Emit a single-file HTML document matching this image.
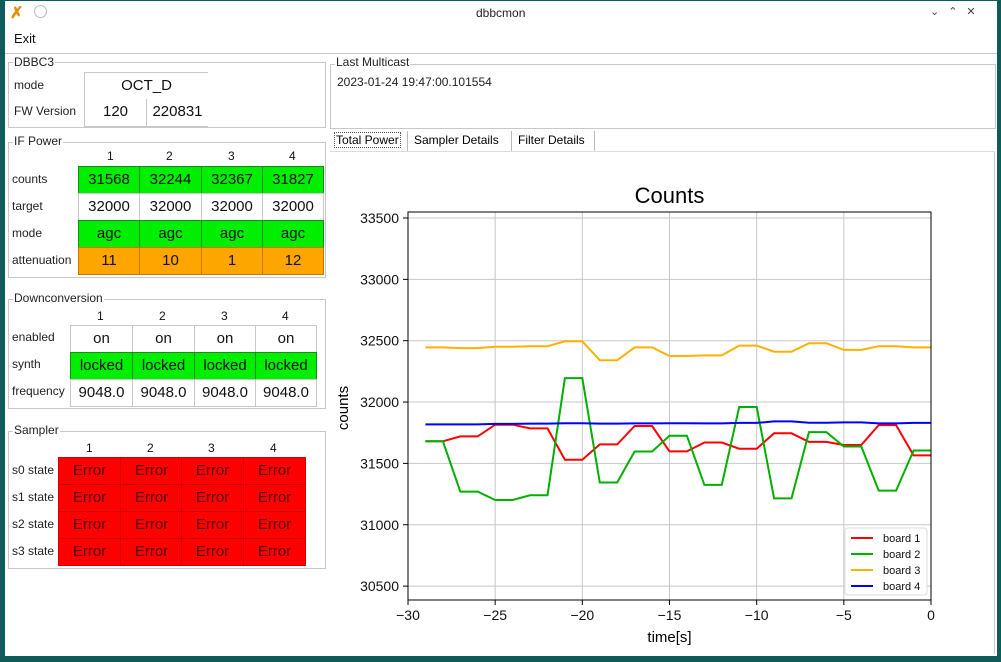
<!DOCTYPE html>
<html><head><meta charset="utf-8"><style>
body{margin:0;width:1001px;height:662px;overflow:hidden;background:#0d5c5a;font-family:"Liberation Sans",sans-serif;position:relative}
.a{position:absolute}
#win{position:absolute;left:5px;top:1px;width:992px;height:655px;background:#fff}
.gb{position:absolute;border:1px solid #c8c8c8}
.gl{position:absolute;background:#fff;font-size:12px;color:#222;padding:0 1px;line-height:13px}
.lbl{position:absolute;font-size:12px;color:#222;line-height:14px}
.c{position:absolute;box-sizing:border-box;text-align:center;font-size:15px;color:#111}
.g{background:#00ee00;border:1px solid #1a8a1a}
.o{background:#ffa500;border:1px solid #c87800}
.r{background:#ff0000;border:1px solid #d40000;color:#500}
.w{background:#fff;border:1px solid #c8c8c8}
.h{position:absolute;font-size:12px;color:#111}
</style></head><body>
<div id="win"></div>
<div class="a" style="left:10px;top:3px;font-size:16px;color:#e29000;font-weight:bold">✗</div>
<div class="a" style="left:34px;top:5px;width:11px;height:11px;border:1px solid #bbb;border-radius:50%"></div>
<div class="a" style="left:476px;top:6px;font-size:12px;color:#222">dbbcmon</div>
<div class="a" style="left:930px;top:5px;font-size:11px;color:#444;letter-spacing:9px">⌄⌃✕</div>
<div class="a" style="left:14px;top:31px;font-size:13px;color:#111">Exit</div>
<div class="a" style="left:5px;top:53px;width:992px;height:1px;background:#c8c8c8"></div>

<!-- DBBC3 -->
<div class="gb" style="left:8px;top:62px;width:316px;height:64px"></div>
<div class="gl" style="left:13px;top:56px">DBBC3</div>
<div class="lbl" style="left:14px;top:78px">mode</div>
<div class="lbl" style="left:14px;top:104px">FW Version</div>
<div class="c w" style="left:84px;top:72px;width:124px;height:28px;line-height:26px;border-right:none;border-bottom:none">OCT_D</div>
<div class="c w" style="left:84px;top:99px;width:63px;height:28px;line-height:26px;border-top:none">120</div>
<div class="c w" style="left:146px;top:99px;width:62px;height:28px;line-height:26px;border-top:none;border-right:none">220831</div>

<!-- IF Power -->
<div class="gb" style="left:8px;top:142px;width:316px;height:134px"></div>
<div class="gl" style="left:13px;top:135px">IF Power</div>
<div class="h" style="left:107px;top:149px">1</div><div class="h" style="left:166px;top:149px">2</div><div class="h" style="left:228px;top:149px">3</div><div class="h" style="left:289px;top:149px">4</div>
<div class="lbl" style="left:12px;top:172px">counts</div>
<div class="lbl" style="left:12px;top:199px">target</div>
<div class="lbl" style="left:12px;top:226px">mode</div>
<div class="lbl" style="left:12px;top:253px">attenuation</div>
<div class="c g" style="left:78px;top:166px;width:62px;height:28px;line-height:26px">31568</div>
<div class="c g" style="left:139px;top:166px;width:63px;height:28px;line-height:26px">32244</div>
<div class="c g" style="left:201px;top:166px;width:62px;height:28px;line-height:26px">32367</div>
<div class="c g" style="left:262px;top:166px;width:62px;height:28px;line-height:26px">31827</div>
<div class="c w" style="left:78px;top:193px;width:62px;height:28px;line-height:26px">32000</div>
<div class="c w" style="left:139px;top:193px;width:63px;height:28px;line-height:26px">32000</div>
<div class="c w" style="left:201px;top:193px;width:62px;height:28px;line-height:26px">32000</div>
<div class="c w" style="left:262px;top:193px;width:62px;height:28px;line-height:26px">32000</div>
<div class="c g" style="left:78px;top:220px;width:62px;height:28px;line-height:26px">agc</div>
<div class="c g" style="left:139px;top:220px;width:63px;height:28px;line-height:26px">agc</div>
<div class="c g" style="left:201px;top:220px;width:62px;height:28px;line-height:26px">agc</div>
<div class="c g" style="left:262px;top:220px;width:62px;height:28px;line-height:26px">agc</div>
<div class="c o" style="left:78px;top:247px;width:62px;height:28px;line-height:26px">11</div>
<div class="c o" style="left:139px;top:247px;width:63px;height:28px;line-height:26px">10</div>
<div class="c o" style="left:201px;top:247px;width:62px;height:28px;line-height:26px">1</div>
<div class="c o" style="left:262px;top:247px;width:62px;height:28px;line-height:26px">12</div>

<!-- Downconversion -->
<div class="gb" style="left:8px;top:299px;width:316px;height:108px"></div>
<div class="gl" style="left:13px;top:292px">Downconversion</div>
<div class="h" style="left:97px;top:309px">1</div><div class="h" style="left:159px;top:309px">2</div><div class="h" style="left:221px;top:309px">3</div><div class="h" style="left:282px;top:309px">4</div>
<div class="lbl" style="left:12px;top:330px">enabled</div>
<div class="lbl" style="left:12px;top:357px">synth</div>
<div class="lbl" style="left:12px;top:384px">frequency</div>
<div class="c w" style="left:70px;top:325px;width:63px;height:28px;line-height:26px">on</div>
<div class="c w" style="left:132px;top:325px;width:63px;height:28px;line-height:26px">on</div>
<div class="c w" style="left:194px;top:325px;width:62px;height:28px;line-height:26px">on</div>
<div class="c w" style="left:255px;top:325px;width:62px;height:28px;line-height:26px">on</div>
<div class="c g" style="left:70px;top:352px;width:63px;height:28px;line-height:26px">locked</div>
<div class="c g" style="left:132px;top:352px;width:63px;height:28px;line-height:26px">locked</div>
<div class="c g" style="left:194px;top:352px;width:62px;height:28px;line-height:26px">locked</div>
<div class="c g" style="left:255px;top:352px;width:62px;height:28px;line-height:26px">locked</div>
<div class="c w" style="left:70px;top:379px;width:63px;height:28px;line-height:26px">9048.0</div>
<div class="c w" style="left:132px;top:379px;width:63px;height:28px;line-height:26px">9048.0</div>
<div class="c w" style="left:194px;top:379px;width:62px;height:28px;line-height:26px">9048.0</div>
<div class="c w" style="left:255px;top:379px;width:62px;height:28px;line-height:26px">9048.0</div>

<!-- Sampler -->
<div class="gb" style="left:8px;top:431px;width:316px;height:136px"></div>
<div class="gl" style="left:13px;top:424px">Sampler</div>
<div class="h" style="left:86px;top:441px">1</div><div class="h" style="left:147px;top:441px">2</div><div class="h" style="left:208px;top:441px">3</div><div class="h" style="left:270px;top:441px">4</div>
<div class="lbl" style="left:12px;top:463px">s0 state</div>
<div class="lbl" style="left:12px;top:490px">s1 state</div>
<div class="lbl" style="left:12px;top:517px">s2 state</div>
<div class="lbl" style="left:12px;top:544px">s3 state</div>
<div id="samp"></div>

<!-- Last multicast -->
<div class="gb" style="left:330px;top:64px;width:664px;height:63px"></div>
<div class="gl" style="left:335px;top:56px">Last Multicast</div>
<div class="lbl" style="left:337px;top:75px">2023-01-24 19:47:00.101554</div>

<!-- tabs -->
<div class="a" style="left:334px;top:132px;font-size:12px;border:1px dotted #555;padding:0 1px;line-height:14px">Total Power</div>
<div class="a" style="left:407px;top:131px;width:1px;height:20px;background:#bbb"></div>
<div class="a" style="left:414px;top:133px;font-size:12px">Sampler Details</div>
<div class="a" style="left:511px;top:131px;width:1px;height:20px;background:#bbb"></div>
<div class="a" style="left:518px;top:133px;font-size:12px">Filter Details</div>
<div class="a" style="left:594px;top:131px;width:1px;height:20px;background:#bbb"></div>
<div class="a" style="left:330px;top:151px;width:665px;height:1px;background:#ddd"></div>
<div class="a" style="left:994px;top:152px;width:1px;height:502px;background:#ccc"></div>

<svg id="chart" class="a" style="left:0;top:0" width="1001" height="662"></svg>

<script>
// sampler cells
(function(){
  var xs=[58,120,181,243], ys=[457,484,511,538], s=document.getElementById('samp');
  for(var r=0;r<4;r++)for(var c=0;c<4;c++){
    var d=document.createElement('div');
    d.className='c r';
    d.style.cssText='left:'+xs[c]+'px;top:'+ys[r]+'px;width:'+(c==0?63:63)+'px;height:28px;line-height:26px';
    d.textContent='Error';
    
    
    s.appendChild(d);
  }
})();

var times=[-29,-28,-27,-26,-25,-24,-23,-22,-21,-20,-19,-18,-17,-16,-15,-14,-13,-12,-11,-10,-9,-8,-7,-6,-5,-4,-3,-2,-1,0];
var board1=[31680,31680,31720,31720,31815,31815,31785,31785,31530,31530,31655,31655,31805,31805,31598,31598,31670,31670,31620,31620,31745,31745,31675,31675,31650,31650,31812,31812,31565,31565];
var board2=[31680,31680,31270,31270,31202,31202,31240,31240,32195,32195,31344,31344,31597,31597,31725,31725,31325,31325,31960,31960,31215,31215,31755,31755,31638,31638,31278,31278,31605,31605];
var board3=[32445,32445,32440,32440,32450,32450,32455,32455,32495,32495,32340,32340,32445,32445,32375,32375,32380,32380,32460,32460,32410,32410,32480,32480,32425,32425,32455,32455,32445,32445];
var board4=[31818,31818,31818,31818,31822,31822,31824,31824,31828,31828,31824,31824,31826,31826,31828,31828,31826,31826,31830,31830,31842,31842,31832,31832,31834,31834,31826,31826,31830,31830];
var seriesNames=['board 1','board 2','board 3','board 4'];
var seriesColors=['#ff0000','#00b000','#ffb000','#0000ff'];
var yTicks=[30500,31000,31500,32000,32500,33000,33500];
var xTicks=[-30,-25,-20,-15,-10,-5,0];

var L=408,R=931,T=212,B=600;
function X(v){return L+(v+30)/30*(R-L);}
function Y(v){return 218+(33500-v)*0.1227;}
var svg=document.getElementById('chart'),NS='http://www.w3.org/2000/svg';
function el(t,a,p){var e=document.createElementNS(NS,t);for(var k in a)e.setAttribute(k,a[k]);(p||svg).appendChild(e);return e;}

yTicks.forEach(function(v){
  var g=el('line',{x1:L,x2:R,y1:Y(v),y2:Y(v),stroke:'#c8c8c8','stroke-width':1});
  
  
  el('line',{x1:L-5,x2:L,y1:Y(v),y2:Y(v),stroke:'#000'});
  var t=el('text',{x:L-9,y:Y(v)+5,'text-anchor':'end','font-size':14,fill:'#111'});
  t.textContent=v;
  
  
});
xTicks.forEach(function(v){
  var g=el('line',{x1:X(v),x2:X(v),y1:T,y2:B,stroke:'#c8c8c8','stroke-width':1});
  
  
  el('line',{x1:X(v),x2:X(v),y1:B,y2:B+5,stroke:'#000'});
  var t=el('text',{x:X(v),y:B+20,'text-anchor':'middle','font-size':14,fill:'#111'});
  t.textContent=(v<0?'\u2212'+(-v):v);
  
  
});
var allSeries=[board1,board2,board3,board4];
allSeries.forEach(function(s,i){
  var p=s.map(function(v,j){return X(times[j]).toFixed(1)+','+Y(v).toFixed(1);}).join(' ');
  var pl=el('polyline',{points:p,fill:'none',stroke:seriesColors[i],'stroke-width':2});
  
  
});
var fr=el('rect',{x:L,y:T,width:R-L,height:B-T,fill:'none',stroke:'#000','stroke-width':1});


var ti=el('text',{x:(L+R)/2,y:203,'text-anchor':'middle','font-size':22,fill:'#000'});
ti.textContent='Counts';


var xl=el('text',{x:(L+R)/2,y:642,'text-anchor':'middle','font-size':15,fill:'#000'});
xl.textContent='time[s]';


var yl=el('text',{x:348,y:408,'text-anchor':'middle','font-size':15,fill:'#000',transform:'rotate(-90 348 408)'});
yl.textContent='counts';


var lg=el('rect',{x:845,y:528,width:82,height:67,fill:'#fff',stroke:'#ddd',rx:3});


seriesNames.forEach(function(n,i){
  var y=538+i*16;
  var ln=el('line',{x1:851,x2:873,y1:y,y2:y,stroke:seriesColors[i],'stroke-width':2});
  
  
  var t=el('text',{x:883,y:y+4,'font-size':11,fill:'#111'});
  t.textContent=n;
  
  
});
</script>
</body></html>
